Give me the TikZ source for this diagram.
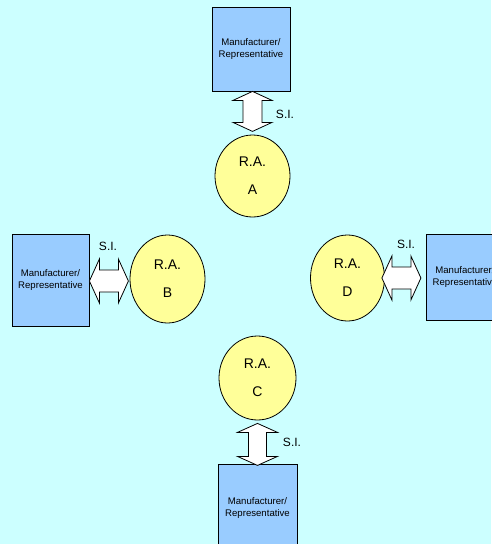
\documentclass[tikz,border=0pt]{standalone}
\usepackage{fontspec}
\setmainfont{Liberation Sans}
\usetikzlibrary{shapes.geometric}
\definecolor{bgcyan}{HTML}{CCFFFF}
\definecolor{boxblue}{HTML}{99CCFF}
\definecolor{rayellow}{HTML}{FFFF99}
\tikzset{
  mfrbox/.style={draw=black, line width=0.8pt, fill=boxblue, rectangle, inner sep=0pt,
    align=center, font=\fontsize{9.6}{12.5}\selectfont},
  raell/.style={draw=black, line width=0.8pt, fill=rayellow, ellipse, inner sep=0pt,
    align=center, font=\fontsize{14}{28}\selectfont},
  silabel/.style={font=\fontsize{12}{14}\selectfont, inner sep=0pt},
  blockarrow/.style={draw=black, line width=0.8pt, fill=white, line join=miter}
}
\newcommand\vblockarrow[4]{% #1 tip, #2 length, #3 half head, #4 half shaft
  \draw[blockarrow] (#1) -- ++(#3,9) -- ++({-(#3-#4)},0) -- ++(0,{#2-18}) -- ++({#3-#4},0)
    -- ++(-#3,9) -- ++(-#3,-9) -- ++({#3-#4},0) -- ++(0,{-(#2-18)}) -- ++({-(#3-#4)},0) -- cycle;}
\newcommand\hblockarrow[4]{% #1 tip, #2 length, #3 half head, #4 half shaft
  \draw[blockarrow] (#1) -- ++(10,-#3) -- ++(0,{#3-#4}) -- ++({#2-20},0) -- ++(0,{-(#3-#4)})
    -- ++(10,#3) -- ++(-10,#3) -- ++(0,{-(#3-#4)}) -- ++({-(#2-20)},0) -- ++(0,{#3-#4}) -- cycle;}
\begin{document}
\begin{tikzpicture}[x=1pt, y=-1pt]
  \fill[bgcyan] (0,0) rectangle (491,544);
  \useasboundingbox (0,0) rectangle (491,544);
  % boxes
  \node[mfrbox, minimum width=78pt, minimum height=84pt] (mtop) at (251,49) {Manufacturer/\\Representative};
  \node[mfrbox, minimum width=77pt, minimum height=92pt] (mleft) at (50.5,280) {Manufacturer/\\Representative};
  \node[mfrbox, minimum width=78pt, minimum height=86pt] (mright) at (465,277) {Manufacturer/\\Representative};
  \node[mfrbox, minimum width=79pt, minimum height=88pt] (mbottom) at (257.5,508) {Manufacturer/\\Representative};
  % circles
  \node[raell, minimum width=75pt, minimum height=82pt] (ra) at (252.5,176) {R.A.\\A};
  \node[raell, minimum width=75pt, minimum height=88pt] (rb) at (167.5,279) {R.A.\\B};
  \node[raell, minimum width=74pt, minimum height=86pt] (rd) at (347.5,278) {R.A.\\D};
  \node[raell, minimum width=77pt, minimum height=84pt] (rc) at (257.5,378) {R.A.\\C};
  % arrows
  \coordinate (atop) at ([xshift=1.5pt]mtop.south);
  \vblockarrow{atop}{40}{19.5}{9.5}
  \coordinate (abot) at ([yshift=-3pt]rc.south);
  \vblockarrow{abot}{42}{20}{9}
  \coordinate (aleft) at ([yshift=-1pt]mleft.east);
  \hblockarrow{aleft}{39}{22}{11}
  \coordinate (aright) at ([xshift=-3pt]rd.east);
  \hblockarrow{aright}{39}{22}{11}
  % labels
  \node[silabel] (sitop) at (285,114) {S.I.};
  \node[silabel] (sileft) at (108,246) {S.I.};
  \node[silabel] (siright) at (406,244) {S.I.};
  \node[silabel] (sibottom) at (292,442) {S.I.};
\end{tikzpicture}
\end{document}
